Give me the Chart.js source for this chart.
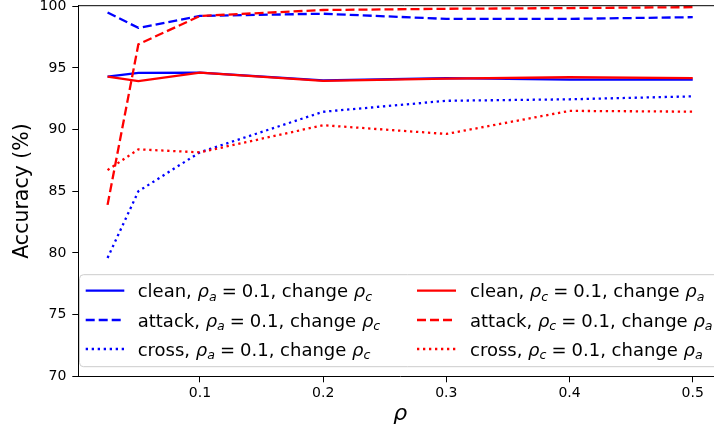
<!DOCTYPE html>
<html>
<head>
<meta charset="utf-8">
<script src="https://cdn.jsdelivr.net/npm/chart.js@4/dist/chart.umd.min.js"></script>
<style>
  html, body { margin: 0; padding: 0; background: #fff; overflow: hidden; }
  #wrap { position: relative; width: 714px; height: 429px; overflow: hidden; }
  #myChart { display: block; width: 730px; height: 429px; }
</style>
</head>
<body>
<div id="wrap"><canvas id="myChart" width="730" height="429"></canvas></div>
<script>
const RHO = [0.025, 0.05, 0.1, 0.2, 0.3, 0.4, 0.5];
const X_TICKS = [0.1, 0.2, 0.3, 0.4, 0.5];
const Y_TICKS = [70, 75, 80, 85, 90, 95, 100];

// rho_a = 0.1, change rho_c (blue)
const CLEAN_A = [94.30, 94.60, 94.62, 94.00, 94.18, 94.05, 94.05];
const ATTACK_A = [99.50, 98.25, 99.22, 99.40, 98.98, 98.98, 99.12];
const CROSS_A = [79.60, 85.00, 88.17, 91.45, 92.34, 92.46, 92.70];

// rho_c = 0.1, change rho_a (red)
const CLEAN_C = [94.30, 93.93, 94.62, 93.96, 94.14, 94.25, 94.18];
const ATTACK_C = [83.90, 96.92, 99.22, 99.70, 99.80, 99.86, 99.93];
const CROSS_C = [86.72, 88.40, 88.16, 90.36, 89.65, 91.52, 91.46];

// legend texts: [text, style] n = normal, i = italic, s = italic subscript, r = relation
const LEGEND_LABELS = [
    [['clean, ', 'n'], ['ρ', 'i'], ['a', 's'], ['=', 'r'], ['0.1', 'n'], [', change ', 'n'], ['ρ', 'i'], ['c', 's']],
    [['attack, ', 'n'], ['ρ', 'i'], ['a', 's'], ['=', 'r'], ['0.1', 'n'], [', change ', 'n'], ['ρ', 'i'], ['c', 's']],
    [['cross, ', 'n'], ['ρ', 'i'], ['a', 's'], ['=', 'r'], ['0.1', 'n'], [', change ', 'n'], ['ρ', 'i'], ['c', 's']],
    [['clean, ', 'n'], ['ρ', 'i'], ['c', 's'], ['=', 'r'], ['0.1', 'n'], [', change ', 'n'], ['ρ', 'i'], ['a', 's']],
    [['attack, ', 'n'], ['ρ', 'i'], ['c', 's'], ['=', 'r'], ['0.1', 'n'], [', change ', 'n'], ['ρ', 'i'], ['a', 's']],
    [['cross, ', 'n'], ['ρ', 'i'], ['c', 's'], ['=', 'r'], ['0.1', 'n'], [', change ', 'n'], ['ρ', 'i'], ['a', 's']],
];

const FONT = 'DejaVu Sans';
const BLUE = '#0000ff';
const RED = '#ff0000';
const SOLID = [];
const DASHED = [9, 4];
const DOTTED = [2.3, 3.7];

const pts = ys => RHO.map((x, i) => ({ x, y: ys[i] }));

function makeSet(ys, color, dash, order) {
    return {
        data: pts(ys),
        borderColor: color,
        backgroundColor: color,
        borderWidth: 2.3,
        borderDash: dash,
        pointRadius: 0,
        tension: 0,
        fill: false,
        order,
    };
}

const series = [
    makeSet(CLEAN_A, BLUE, SOLID, 6),
    makeSet(ATTACK_A, BLUE, DASHED, 5),
    makeSet(CROSS_A, BLUE, DOTTED, 4),
    makeSet(CLEAN_C, RED, SOLID, 3),
    makeSet(ATTACK_C, RED, DASHED, 2),
    makeSet(CROSS_C, RED, DOTTED, 1),
];

// top spine only: the right one is cut off in the reference
const frame = {
    id: 'frame',
    afterDatasetsDraw(chart) {
        const { ctx, chartArea: a } = chart;
        ctx.save();
        ctx.strokeStyle = '#000';
        ctx.lineWidth = 1;
        ctx.beginPath();
        ctx.moveTo(a.left, a.top);
        ctx.lineTo(a.right + 10, a.top);
        ctx.stroke();
        ctx.restore();
    }
};

function drawRich(ctx, parts, x, y, size) {
    for (const [txt, st] of parts) {
        if (st === 'r') {
            ctx.font = `${size}px "${FONT}"`;
            x += size * 5 / 18;
            ctx.fillText(txt, x, y);
            x += ctx.measureText(txt).width + size * 5 / 18;
        } else if (st === 's') {
            ctx.font = `italic ${size * 0.7}px "${FONT}"`;
            ctx.fillText(txt, x, y + size * 0.18);
            x += ctx.measureText(txt).width;
        } else {
            ctx.font = `${st === 'i' ? 'italic ' : ''}${size}px "${FONT}"`;
            ctx.fillText(txt, x, y);
            x += ctx.measureText(txt).width;
        }
    }
}

const legendBox = {
    id: 'legendBox',
    afterDraw(chart) {
        const ctx = chart.ctx;
        const left = 79.5, top = 274.7, right = 760, bottom = 366.7, r = 4;
        ctx.save();
        ctx.beginPath();
        ctx.roundRect(left, top, right - left, bottom - top, r);
        ctx.fillStyle = 'rgba(255,255,255,0.8)';
        ctx.fill();
        ctx.strokeStyle = '#cccccc';
        ctx.lineWidth = 1;
        ctx.stroke();

        const rows = [290.7, 320, 349];
        const cols = [{ h0: 85.7, h1: 124.3, tx: 137.7 }, { h0: 417, h1: 456, tx: 470 }];
        ctx.textBaseline = 'alphabetic';
        series.forEach((s, i) => {
            const c = cols[Math.floor(i / 3)];
            const yy = rows[i % 3];
            ctx.beginPath();
            ctx.setLineDash(s.borderDash);
            ctx.strokeStyle = s.borderColor;
            ctx.lineWidth = s.borderWidth;
            ctx.moveTo(c.h0, yy);
            ctx.lineTo(c.h1, yy);
            ctx.stroke();
            ctx.setLineDash([]);
            ctx.fillStyle = '#000';
            drawRich(ctx, LEGEND_LABELS[i], c.tx, yy + 6.7, 18);
        });
        ctx.restore();
    }
};

const tickFont = { family: FONT, size: 14 };

new Chart(document.getElementById('myChart'), {
    type: 'line',
    data: { datasets: series },
    options: {
        responsive: false,
        devicePixelRatio: 1,
        animation: false,
        layout: { padding: { left: 0, top: 5.7, right: 8, bottom: 0 } },
        plugins: {
            legend: { display: false },
            tooltip: { enabled: false },
        },
        scales: {
            x: {
                type: 'linear',
                min: 0.00125,
                max: 0.52375,
                afterBuildTicks: s => { s.ticks = X_TICKS.map(v => ({ value: v })); },
                afterFit: s => { s.height = 52.7; s.paddingLeft = 0; s.paddingRight = 0; },
                ticks: {
                    callback: v => v.toFixed(1),
                    font: tickFont,
                    color: '#000',
                    padding: 3,
                    autoSkip: false,
                    maxRotation: 0,
                },
                grid: { drawOnChartArea: false, drawTicks: true, tickLength: 6, tickColor: '#000', tickWidth: 1 },
                border: { color: '#000', width: 1 },
                title: {
                    display: true,
                    text: 'ρ',
                    color: '#000',
                    font: { family: FONT, size: 22, style: 'italic', lineHeight: 1.2 },
                    padding: { top: 0, bottom: 2 },
                },
            },
            y: {
                min: 70,
                max: 100.05,
                afterBuildTicks: s => { s.ticks = Y_TICKS.map(v => ({ value: v })); },
                afterFit: s => { s.width = 78.3; s.paddingTop = 0; s.paddingBottom = 0; },
                ticks: { font: tickFont, color: '#000', padding: 6 },
                grid: { drawOnChartArea: false, drawTicks: true, tickLength: 6, tickColor: '#000', tickWidth: 1 },
                border: { color: '#000', width: 1 },
                title: {
                    display: true,
                    text: 'Accuracy (%)',
                    color: '#000',
                    font: { family: FONT, size: 20.5, lineHeight: 1.2 },
                    padding: { top: 10, bottom: 0 },
                },
            },
        },
    },
    plugins: [frame, legendBox],
});
</script>
</body>
</html>
